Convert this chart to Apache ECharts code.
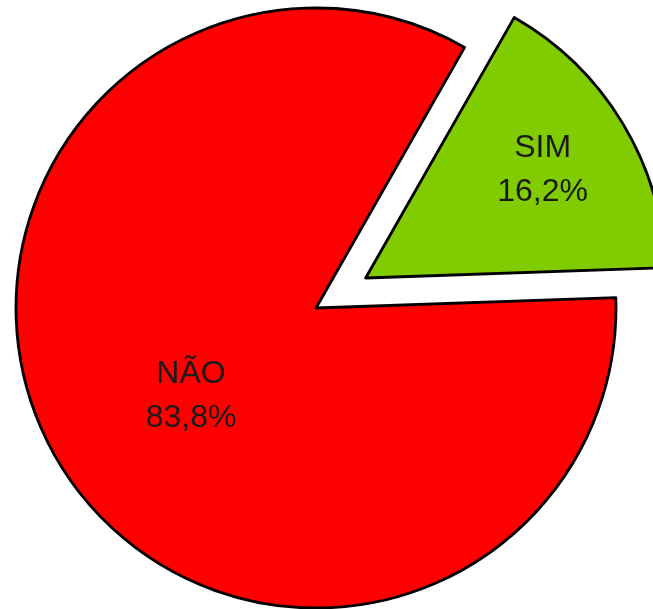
<!DOCTYPE html>
<html>
<head>
<meta charset="utf-8">
<script src="https://cdn.jsdelivr.net/npm/echarts@6/dist/echarts.min.js"></script>
<style>
html,body{margin:0;padding:0;background:#fff;}
#c{width:653px;height:609px;}
</style>
</head>
<body>
<div id="c"></div>
<script>
const categories = ['SIM', 'NÃO'];
const values = [16.2, 83.8];
const colors = ['#80cc00', '#ff0000'];

const chart = echarts.init(document.getElementById('c'), null, {renderer: 'canvas'});
chart.setOption({
  animation: false,
  backgroundColor: '#ffffff',
  series: [{
    type: 'pie',
    center: [316, 308],
    radius: 300,
    startAngle: 60.3,
    clockwise: true,
    selectedMode: 'single',
    selectedOffset: 58,
    avoidLabelOverlap: false,
    emphasis: {disabled: true},
    itemStyle: {borderColor: '#000', borderWidth: 2.8},
    label: {
      show: true,
      position: 'inside',
      fontFamily: 'Liberation Sans, Arial, sans-serif',
      fontSize: 32,
      lineHeight: 44,
      color: '#1a1a1a',
      align: 'center',
      formatter: p => p.name + '\n' + p.value.toFixed(1).replace('.', ',') + '%'
    },
    labelLine: {show: false},
    labelLayout: p => p.dataIndex === 0 ? {dx: 46, dy: -29} : {dx: 6, dy: 9},
    data: categories.map((c, i) => ({
      name: c,
      value: values[i],
      selected: i === 0,
      itemStyle: {color: colors[i]}
    }))
  }]
});
</script>
</body>
</html>
